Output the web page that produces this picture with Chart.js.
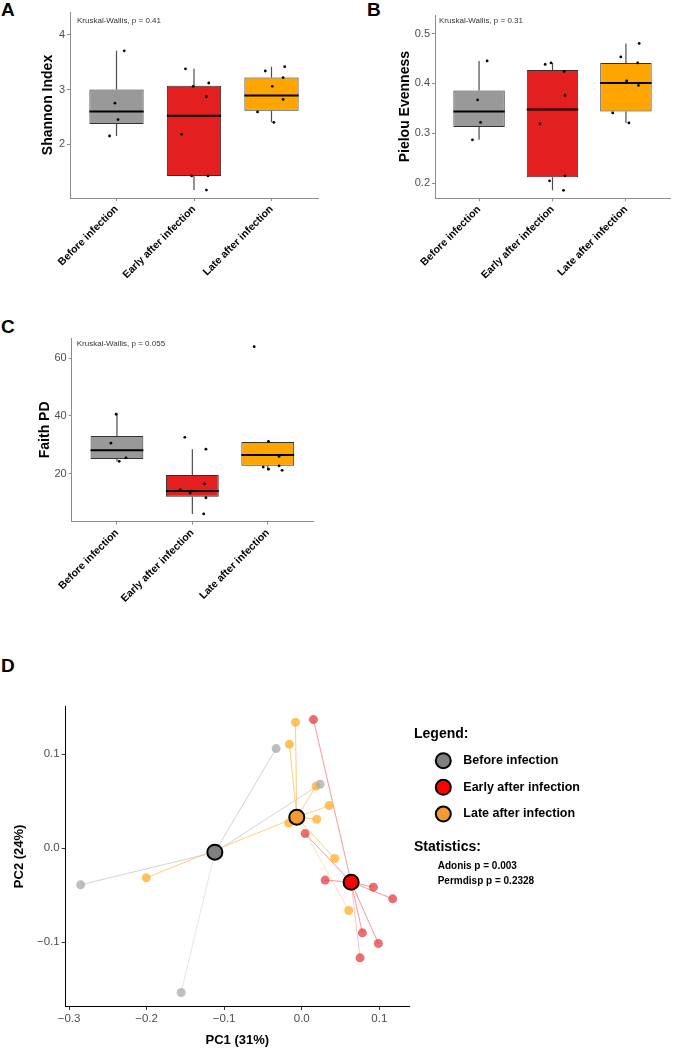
<!DOCTYPE html>
<html>
<head>
<meta charset="utf-8">
<script src="https://cdn.jsdelivr.net/npm/chart.js@4.4.0/dist/chart.umd.min.js"></script>
<style>
  body { margin: 0; background: #fff; width: 674px; height: 1048px; position: relative; overflow: hidden; }
  .panel { position: absolute; }
  .tag { position: absolute; font: bold 19px "Liberation Sans", Arial, sans-serif; line-height: 1; color: #000; }
</style>
</head>
<body>
<div class="tag" style="left:1px;top:0px">A</div>
<div class="tag" style="left:367px;top:0px">B</div>
<div class="tag" style="left:1px;top:317px">C</div>
<div class="tag" style="left:1px;top:656px">D</div>

<div class="panel" style="left:0;top:0;width:330px;height:300px"><canvas id="shannon"></canvas></div>
<div class="panel" style="left:330px;top:0;width:344px;height:300px"><canvas id="pielou"></canvas></div>
<div class="panel" style="left:0;top:320px;width:330px;height:300px"><canvas id="faith"></canvas></div>
<div class="panel" style="left:0;top:640px;width:674px;height:408px"><canvas id="pcoa"></canvas></div>

<script>
const groups = ['Before infection', 'Early after infection', 'Late after infection'];
const boxFill = ['#999999', '#E31F1F', '#FFA500'];

// A - Shannon
const shannonMin = [2.15, 1.16, 2.40];
const shannonQ1 = [2.37, 1.42, 2.61];
const shannonMed = [2.60, 2.52, 2.89];
const shannonQ3 = [3.00, 3.07, 3.22];
const shannonMax = [3.71, 3.38, 3.42];
const shannonX = [1.10, 0.98, 1.02, 0.91, 1.89, 1.99, 2.19, 2.16, 1.84, 1.97, 2.18, 2.16, 2.92, 3.17, 3.15, 3.01, 3.15, 2.82, 3.03];
const shannonY = [3.71, 2.75, 2.45, 2.15, 3.38, 3.06, 3.12, 2.87, 2.18, 1.42, 1.42, 1.16, 3.34, 3.42, 3.22, 3.06, 2.82, 2.59, 2.40];
const shannonTicks = [2, 3, 4];

// B - Pielou
const pielouMin = [0.287, 0.186, 0.321];
const pielouQ1 = [0.313, 0.212, 0.344];
const pielouMed = [0.344, 0.348, 0.401];
const pielouQ3 = [0.386, 0.427, 0.441];
const pielouMax = [0.445, 0.441, 0.480];
const pielouX = [1.11, 0.98, 1.02, 0.91, 1.90, 1.98, 2.16, 2.17, 1.83, 2.17, 1.96, 2.15, 2.93, 3.18, 3.16, 3.01, 3.17, 2.82, 3.04];
const pielouY = [0.445, 0.367, 0.322, 0.287, 0.438, 0.441, 0.424, 0.376, 0.319, 0.215, 0.205, 0.186, 0.453, 0.480, 0.441, 0.405, 0.396, 0.341, 0.321];
const pielouTicks = [0.2, 0.3, 0.4, 0.5];

// C - Faith PD
const faithMin = [24.3, 6.1, 21.2];
const faithQ1 = [25.1, 12.0, 22.8];
const faithMed = [28.1, 14.0, 26.5];
const faithQ3 = [33.1, 19.6, 31.0];
const faithMax = [40.6, 28.5, 31.2];
const faithX = [0.99, 0.92, 1.12, 1.03, 1.90, 2.18, 2.16, 1.84, 1.97, 2.18, 2.15, 1.99, 2.82, 3.01, 3.15, 2.94, 3.01, 3.15, 3.19];
const faithY = [40.6, 30.6, 25.5, 24.3, 32.6, 28.5, 16.5, 14.5, 13.3, 11.7, 6.1, 14.0, 64.0, 31.2, 26.0, 22.3, 21.6, 22.7, 21.2];
const faithTicks = [20, 40, 60];

// D - PCoA
const centroidX = [-0.1120, 0.0637, -0.0064];
const centroidY = [-0.0043, -0.0362, 0.0330];
const beforeX = [-0.033, 0.0237, -0.285, -0.1554];
const beforeY = [0.106, 0.068, -0.039, -0.1536];
const earlyX = [0.0151, 0.0044, 0.0302, 0.0924, 0.1173, 0.0782, 0.0988, 0.0752];
const earlyY = [0.1369, 0.0155, -0.034, -0.0415, -0.0539, -0.0901, -0.1015, -0.1167];
const lateX = [-0.0081, -0.0159, 0.0185, 0.0353, 0.0193, -0.0168, 0.0425, -0.2005, 0.0606];
const lateY = [0.134, 0.1106, 0.066, 0.0453, 0.0308, 0.0266, -0.011, -0.0316, -0.0664];
const pcXTicks = [-0.3, -0.2, -0.1, 0.0, 0.1];
const pcYTicks = [-0.1, 0.0, 0.1];

const FONT = '"Liberation Sans", Arial, sans-serif';
Chart.defaults.font.family = FONT;
Chart.defaults.animation = false;

function boxParts(lo, med, hi, note) {
  return {
    id: 'boxParts',
    beforeDatasetsDraw(chart) {
      const {ctx, scales: {y}} = chart;
      const bars = chart.getDatasetMeta(1).data;
      const q = chart.data.datasets[1].data;
      ctx.save();
      ctx.strokeStyle = '#4d4d4d';
      ctx.lineWidth = 1.2;
      bars.forEach((b, i) => {
        ctx.beginPath();
        ctx.moveTo(b.x, y.getPixelForValue(hi[i]));
        ctx.lineTo(b.x, y.getPixelForValue(q[i].y[1]));
        ctx.moveTo(b.x, y.getPixelForValue(q[i].y[0]));
        ctx.lineTo(b.x, y.getPixelForValue(lo[i]));
        ctx.stroke();
      });
      ctx.restore();
    },
    afterDatasetDraw(chart, args) {
      if (args.index !== 1) return;
      const {ctx, scales: {y}} = chart;
      ctx.save();
      ctx.strokeStyle = '#000';
      ctx.lineWidth = 2;
      args.meta.data.forEach((b, i) => {
        const py = y.getPixelForValue(med[i]);
        ctx.beginPath();
        ctx.moveTo(b.x - b.width / 2, py);
        ctx.lineTo(b.x + b.width / 2, py);
        ctx.stroke();
      });
      ctx.restore();
    },
    afterDraw(chart) {
      const {ctx, chartArea} = chart;
      ctx.save();
      ctx.font = '8px ' + FONT;
      ctx.fillStyle = '#333';
      ctx.textBaseline = 'middle';
      ctx.fillText(note.text, chartArea.left + note.dx, chartArea.top + note.dy);
      ctx.restore();
    }
  };
}

function boxChart(id, o) {
  const boxes = groups.map((g, i) => ({x: i + 1, y: [o.q1[i], o.q3[i]]}));
  const pts = o.px.map((v, i) => ({x: v, y: o.py[i]}));
  new Chart(document.getElementById(id), {
    type: 'bar',
    data: {
      datasets: [{
        type: 'scatter',
        data: pts,
        backgroundColor: '#000',
        borderWidth: 0,
        pointRadius: 1.4
      }, {
        data: boxes,
        backgroundColor: boxFill,
        borderColor: '#333',
        borderWidth: 1,
        borderSkipped: false,
        barPercentage: 0.7,
        categoryPercentage: 1
      }]
    },
    options: {
      responsive: true,
      maintainAspectRatio: false,
      layout: {padding: {top: o.top, right: o.right, left: 0, bottom: 0}},
      plugins: {legend: {display: false}, tooltip: {enabled: false}},
      scales: {
        x: {
          type: 'linear',
          offset: false,
          min: 0.4, max: 3.6,
          afterBuildTicks: s => { s.ticks = [1, 2, 3].map(v => ({value: v})); },
          afterFit: s => { s.height = o.xh; },
          border: {display: true, color: '#8c8c8c', width: 1},
          grid: {offset: false, drawOnChartArea: false, drawTicks: true, tickLength: 3, tickColor: '#8c8c8c'},
          ticks: {
            autoSkip: false, minRotation: 45, maxRotation: 45, padding: 2,
            color: '#000', font: {size: 10.5, weight: 'bold'},
            callback: v => groups[Math.round(v) - 1]
          }
        },
        y: {
          min: o.ymin, max: o.ymax,
          afterBuildTicks: s => { s.ticks = o.ticks.map(v => ({value: v})); },
          afterFit: s => { s.width = o.yw; },
          border: {display: true, color: '#8c8c8c', width: 1},
          grid: {drawOnChartArea: false, drawTicks: true, tickLength: 3, tickColor: '#8c8c8c'},
          ticks: {padding: 2, color: '#4d4d4d', font: {size: 11}, callback: o.fmt},
          title: {display: true, text: o.title, color: '#000', font: {size: 14, weight: 'bold'}, padding: {top: o.tpad, bottom: 0}}
        }
      }
    },
    plugins: [boxParts(o.lo, o.med, o.hi, o.note)]
  });
}

boxChart('shannon', {
  q1: shannonQ1, q3: shannonQ3, lo: shannonMin, hi: shannonMax, med: shannonMed,
  px: shannonX, py: shannonY, ticks: shannonTicks, fmt: v => String(v),
  ymin: 1.015, ymax: 4.42, top: 12, right: 12, xh: 102, yw: 70, tpad: 40,
  title: 'Shannon Index', note: {text: 'Kruskal-Wallis, p = 0.41', dx: 7, dy: 9}
});

boxChart('pielou', {
  q1: pielouQ1, q3: pielouQ3, lo: pielouMin, hi: pielouMax, med: pielouMed,
  px: pielouX, py: pielouY, ticks: pielouTicks, fmt: v => v.toFixed(1),
  ymin: 0.17, ymax: 0.537, top: 15, right: 1, xh: 101.7, yw: 105, tpad: 67,
  title: 'Pielou Evenness', note: {text: 'Kruskal-Wallis, p = 0.31', dx: 4, dy: 6}
});

boxChart('faith', {
  q1: faithQ1, q3: faithQ3, lo: faithMin, hi: faithMax, med: faithMed,
  px: faithX, py: faithY, ticks: faithTicks, fmt: v => String(v),
  ymin: 3.4, ymax: 67, top: 18, right: 17, xh: 98.3, yw: 71.7, tpad: 37,
  title: 'Faith PD', note: {text: 'Kruskal-Wallis, p = 0.055', dx: 5, dy: 6}
});

// PCoA
const pcoaGroups = [
  {x: beforeX, y: beforeY, point: 'rgba(170,170,170,0.75)', line: 'rgba(190,190,190,0.4)', centre: '#808080'},
  {x: earlyX, y: earlyY, point: 'rgba(225,50,55,0.7)', line: 'rgba(235,90,95,0.35)', centre: '#FF0000'},
  {x: lateX, y: lateY, point: 'rgba(253,175,40,0.75)', line: 'rgba(253,185,70,0.4)', centre: '#F39B30'}
];

const pcoaSets = [{
  data: centroidX.map((v, i) => ({x: v, y: centroidY[i]})),
  backgroundColor: pcoaGroups.map(g => g.centre),
  borderColor: '#000',
  borderWidth: 2,
  pointRadius: 7.5
}];
pcoaGroups.forEach(g => {
  pcoaSets.push({
    data: g.x.map((v, i) => ({x: v, y: g.y[i]})),
    backgroundColor: g.point,
    borderWidth: 0,
    pointRadius: 4.5
  });
});
pcoaGroups.forEach((g, k) => {
  const star = [];
  g.x.forEach((v, i) => {
    star.push({x: centroidX[k], y: centroidY[k]});
    star.push({x: v, y: g.y[i]});
  });
  pcoaSets.push({data: star, showLine: true, borderColor: g.line, borderWidth: 1, pointRadius: 0});
});

const pcoaLegend = {
  id: 'pcoaLegend',
  afterDraw(chart) {
    const {ctx} = chart;
    ctx.save();
    ctx.textBaseline = 'middle';
    ctx.fillStyle = '#000';
    ctx.font = 'bold 14px ' + FONT;
    ctx.fillText('Legend:', 414, 94.3);
    const ys = [120.7, 147.3, 174];
    ctx.font = 'bold 12.5px ' + FONT;
    groups.forEach((g, i) => {
      ctx.beginPath();
      ctx.arc(443.3, ys[i], 7.5, 0, Math.PI * 2);
      ctx.fillStyle = pcoaGroups[i].centre;
      ctx.fill();
      ctx.lineWidth = 2;
      ctx.strokeStyle = '#000';
      ctx.stroke();
      ctx.fillStyle = '#000';
      ctx.fillText(g, 463.3, ys[i]);
    });
    ctx.font = 'bold 14px ' + FONT;
    ctx.fillText('Statistics:', 414, 206.7);
    ctx.font = 'bold 10px ' + FONT;
    ctx.fillText('Adonis p = 0.003', 437.7, 226);
    ctx.fillText('Permdisp p = 0.2328', 437.7, 241.7);
    ctx.restore();
  }
};

const minus = v => (Math.abs(v) < 1e-9 ? 0 : v).toFixed(1).replace('-', '\u2212');

new Chart(document.getElementById('pcoa'), {
  type: 'scatter',
  data: {datasets: pcoaSets},
  options: {
    responsive: true,
    maintainAspectRatio: false,
    layout: {padding: {top: 66.7, right: 265, left: 0, bottom: 0}},
    plugins: {legend: {display: false}, tooltip: {enabled: false}},
    scales: {
      x: {
        min: -0.3043, max: 0.1383,
        afterBuildTicks: s => { s.ticks = pcXTicks.map(v => ({value: v})); },
        afterFit: s => { s.height = 42; },
        border: {display: true, color: '#000', width: 1},
        grid: {drawOnChartArea: false, drawTicks: true, tickLength: 4, tickColor: '#333'},
        ticks: {padding: 2, color: '#4d4d4d', font: {size: 11.5}, maxRotation: 0, callback: minus},
        title: {display: true, text: 'PC1 (31%)', color: '#000', font: {size: 13, weight: 'bold'}, padding: {top: 0, bottom: 0}}
      },
      y: {
        min: -0.168, max: 0.1506,
        afterBuildTicks: s => { s.ticks = pcYTicks.map(v => ({value: v})); },
        afterFit: s => { s.width = 65.7; },
        border: {display: true, color: '#000', width: 1},
        grid: {drawOnChartArea: false, drawTicks: true, tickLength: 4, tickColor: '#333'},
        ticks: {padding: 2, color: '#4d4d4d', font: {size: 11.5}, callback: minus},
        title: {display: true, text: 'PC2 (24%)', color: '#000', font: {size: 13, weight: 'bold'}, padding: {top: 12, bottom: 0}}
      }
    }
  },
  plugins: [pcoaLegend]
});
</script>
</body>
</html>
